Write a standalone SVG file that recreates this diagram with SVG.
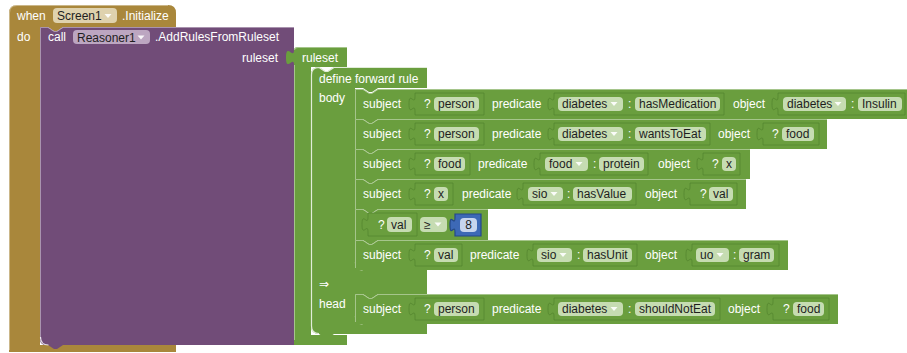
<svg xmlns="http://www.w3.org/2000/svg" width="907" height="353" viewBox="0 0 907 353">
<style>
text{font-family:"Liberation Sans",Arial,"DejaVu Sans",sans-serif;font-size:12px}
.w{fill:#fff}
.d{fill:#1e1e1e}
.gold{fill:#A9873B}
.pur{fill:#714C78}
.grn{fill:#6A9E3E}
.gp{fill:#C6DCB2}
.pp{fill:#BCA6C1}
.op{fill:#DFD2AE}
.iv{fill:#6A9E3E;stroke:#4F7F2C;stroke-width:1;stroke-opacity:.6}
.hl{fill:none;stroke:#fff;stroke-opacity:.4;stroke-width:1}
.hs{fill:none;stroke:#fff;stroke-opacity:.8;stroke-width:1.2}
.arr{fill:#fff;fill-opacity:.9}
.blue{fill:#3D69B6;stroke:#24488A;stroke-width:1.2}
.bp{fill:#C7D5EE}
</style>

<g id="when-screen1-initialize">
  <path class="gold" d="M9,13 Q9,5 17,5 H168 Q176,5 176,13 V27 H63 l-6,4 h-3 l-6,-4 H40 V345 H176 V352 H9 Z"/>
  <path class="hl" d="M9.5,350 V13 Q9.5,5.5 17,5.5 H168"/>
  <text class="w" x="17" y="20">when</text>
  <rect class="op" x="53" y="8" width="64" height="15" rx="4"/>
  <text class="d" x="57" y="20">Screen1</text>
  <polygon class="arr" points="104.5,14 111.5,14 108,18"/>
  <text class="w" x="122" y="20">.Initialize</text>
  <text class="w" x="17" y="41">do</text>
</g>

<g id="call-addrules">
  <path class="pur" d="M40,27 H48 l6,4 h3 l6,-4 H294 V345 H63 l-6,4 h-3 l-6,-4 H46 Q40,345 40,339 Z"/>
  <path class="hl" d="M40.5,339 V27.5 H48 l6,4 h3 l6,-4 H294"/>
  <path class="hs" d="M40.5,337 q0,8 8,8"/>
  <text class="w" x="48" y="41">call</text>
  <rect class="pp" x="73" y="30" width="77" height="14" rx="4"/>
  <text class="d" x="77" y="41.5">Reasoner1</text>
  <polygon class="arr" points="137.5,35.5 144.5,35.5 141,39.5"/>
  <text class="w" x="155" y="41">.AddRulesFromRuleset</text>
  <text class="w" x="278" y="61.5" text-anchor="end">ruleset</text>
</g>

<g id="ruleset">
  <path class="grn" d="M298,47 H347 V67 H311 V335 H347 V345 H294 V65 c0,-10 -8,8 -8,-7.5 s8,2.5 8,-7.5 Q294,47 298,47 Z"/>
  <path class="hl" d="M294.5,340 V65 M294.5,50 Q294.5,47.5 298,47.5 H347"/>
  <text class="w" x="302" y="61.5">ruleset</text>
</g>

<g id="define-forward-rule">
  <path class="grn" d="M311,75 Q311,67 319,67 l6,4 h3 l6,-4 H427 V88 H378 l-6,4 h-3 l-6,-4 H355 V270 H427 V294 H378 l-6,4 h-3 l-6,-4 H355 V324 H427 V334 H334 l-6,4 h-3 l-6,-4 H319 Q311,334 311,326 Z"/>
  <path class="hs" d="M311.5,326 V75 Q311.5,67.5 319,67.5 l6,4 h3 l6,-4 H427"/>
  <path class="hs" d="M311.5,326 q0,7.5 7.5,7.5"/>
  <path class="hs" d="M355.5,262 v1 q0,7 7,7 M355.5,316 v1 q0,7 7,7"/>
  <text class="w" x="319" y="83">define forward rule</text>
  <text class="w" x="319" y="102">body</text>
  <text class="w" x="319" y="287.5" font-family="'DejaVu Sans',sans-serif" font-size="11">⇒</text>
  <text class="w" x="319" y="308">head</text>
</g>

<g id="triple-person-hasMedication">
  <path class="grn" d="M355,89 H363 l6,4 h3 l6,-4 H912 V119 H378 l-6,4 h-3 l-6,-4 H355 Z"/>
  <path class="hl" d="M355.5,119 V89.5 H363 l6,4 h3 l6,-4 H912"/>
  <text class="w" x="363" y="108">subject</text>
  <path class="iv" d="M415,93 H484 V115 H415 V111.5 c0,-10 -6,6 -6,-7.5 s6,2.5 6,-7.5 Z"/>
  <text class="w" x="424" y="108">?</text>
  <rect class="gp" x="434" y="97" width="45" height="14" rx="4"/>
  <text class="d" x="438" y="108">person</text>
  <text class="w" x="492" y="108">predicate</text>
  <path class="iv" d="M554,93 H724 V115 H554 V111.5 c0,-10 -6,6 -6,-7.5 s6,2.5 6,-7.5 Z"/>
  <rect class="gp" x="558" y="97" width="65" height="14" rx="4"/>
  <text class="d" x="562" y="108">diabetes</text>
  <polygon class="arr" points="610.5,102 617.5,102 614,106"/>
  <text class="w" x="628" y="108">:</text>
  <rect class="gp" x="635" y="97" width="85" height="14" rx="4"/>
  <text class="d" x="639" y="108">hasMedication</text>
  <text class="w" x="733" y="108">object</text>
  <path class="iv" d="M778,93 H905 V115 H778 V111.5 c0,-10 -6,6 -6,-7.5 s6,2.5 6,-7.5 Z"/>
  <rect class="gp" x="783" y="97" width="63" height="14" rx="4"/>
  <text class="d" x="787" y="108">diabetes</text>
  <polygon class="arr" points="834.5,102 841.5,102 838,106"/>
  <text class="w" x="851" y="108">:</text>
  <rect class="gp" x="858" y="97" width="44" height="14" rx="4"/>
  <text class="d" x="862" y="108">Insulin</text>
</g>

<g id="triple-person-wantsToEat">
  <path class="grn" d="M355,119 H363 l6,4 h3 l6,-4 H827 V149 H378 l-6,4 h-3 l-6,-4 H355 Z"/>
  <path class="hl" d="M355.5,149 V119.5 H363 l6,4 h3 l6,-4 H827"/>
  <text class="w" x="363" y="138">subject</text>
  <path class="iv" d="M415,123 H484 V145 H415 V141.5 c0,-10 -6,6 -6,-7.5 s6,2.5 6,-7.5 Z"/>
  <text class="w" x="424" y="138">?</text>
  <rect class="gp" x="434" y="127" width="45" height="14" rx="4"/>
  <text class="d" x="438" y="138">person</text>
  <text class="w" x="492" y="138">predicate</text>
  <path class="iv" d="M554,123 H710 V145 H554 V141.5 c0,-10 -6,6 -6,-7.5 s6,2.5 6,-7.5 Z"/>
  <rect class="gp" x="558" y="127" width="65" height="14" rx="4"/>
  <text class="d" x="562" y="138">diabetes</text>
  <polygon class="arr" points="610.5,132 617.5,132 614,136"/>
  <text class="w" x="628" y="138">:</text>
  <rect class="gp" x="635" y="127" width="71" height="14" rx="4"/>
  <text class="d" x="639" y="138">wantsToEat</text>
  <text class="w" x="718" y="138">object</text>
  <path class="iv" d="M763,123 H819 V145 H763 V141.5 c0,-10 -6,6 -6,-7.5 s6,2.5 6,-7.5 Z"/>
  <text class="w" x="772" y="138">?</text>
  <rect class="gp" x="782" y="127" width="32" height="14" rx="4"/>
  <text class="d" x="786" y="138">food</text>
</g>

<g id="triple-food-protein">
  <path class="grn" d="M355,149 H363 l6,4 h3 l6,-4 H750 V179 H378 l-6,4 h-3 l-6,-4 H355 Z"/>
  <path class="hl" d="M355.5,179 V149.5 H363 l6,4 h3 l6,-4 H750"/>
  <text class="w" x="363" y="168">subject</text>
  <path class="iv" d="M415,153 H470 V175 H415 V171.5 c0,-10 -6,6 -6,-7.5 s6,2.5 6,-7.5 Z"/>
  <text class="w" x="424" y="168">?</text>
  <rect class="gp" x="434" y="157" width="31" height="14" rx="4"/>
  <text class="d" x="438" y="168">food</text>
  <text class="w" x="478" y="168">predicate</text>
  <path class="iv" d="M540,153 H648 V175 H540 V171.5 c0,-10 -6,6 -6,-7.5 s6,2.5 6,-7.5 Z"/>
  <rect class="gp" x="545" y="157" width="43" height="14" rx="4"/>
  <text class="d" x="549" y="168">food</text>
  <polygon class="arr" points="575.5,162 582.5,162 579,166"/>
  <text class="w" x="593" y="168">:</text>
  <rect class="gp" x="599" y="157" width="45" height="14" rx="4"/>
  <text class="d" x="603" y="168">protein</text>
  <text class="w" x="658" y="168">object</text>
  <path class="iv" d="M703,153 H740 V175 H703 V171.5 c0,-10 -6,6 -6,-7.5 s6,2.5 6,-7.5 Z"/>
  <text class="w" x="712" y="168">?</text>
  <rect class="gp" x="722" y="157" width="14" height="14" rx="4"/>
  <text class="d" x="726" y="168">x</text>
</g>

<g id="triple-x-hasValue">
  <path class="grn" d="M355,179 H363 l6,4 h3 l6,-4 H746 V209 H378 l-6,4 h-3 l-6,-4 H355 Z"/>
  <path class="hl" d="M355.5,209 V179.5 H363 l6,4 h3 l6,-4 H746"/>
  <text class="w" x="363" y="198">subject</text>
  <path class="iv" d="M415,183 H453 V205 H415 V201.5 c0,-10 -6,6 -6,-7.5 s6,2.5 6,-7.5 Z"/>
  <text class="w" x="424" y="198">?</text>
  <rect class="gp" x="434" y="187" width="14" height="14" rx="4"/>
  <text class="d" x="438" y="198">x</text>
  <text class="w" x="462" y="198">predicate</text>
  <path class="iv" d="M523,183 H636 V205 H523 V201.5 c0,-10 -6,6 -6,-7.5 s6,2.5 6,-7.5 Z"/>
  <rect class="gp" x="528" y="187" width="35" height="14" rx="4"/>
  <text class="d" x="532" y="198">sio</text>
  <polygon class="arr" points="550.5,192 557.5,192 554,196"/>
  <text class="w" x="567" y="198">:</text>
  <rect class="gp" x="573" y="187" width="59" height="14" rx="4"/>
  <text class="d" x="577" y="198">hasValue</text>
  <text class="w" x="645" y="198">object</text>
  <path class="iv" d="M690,183 H737 V205 H690 V201.5 c0,-10 -6,6 -6,-7.5 s6,2.5 6,-7.5 Z"/>
  <text class="w" x="700" y="198">?</text>
  <rect class="gp" x="709" y="187" width="24" height="14" rx="4"/>
  <text class="d" x="713" y="198">val</text>
</g>

<g id="compare-val-ge-8">
  <path class="grn" d="M355,209 H363 l6,4 h3 l6,-4 H488 V240 H378 l-6,4 h-3 l-6,-4 H355 Z"/>
  <path class="hl" d="M355.5,240 V209.5 H363 l6,4 h3 l6,-4 H488"/>
  <path class="iv" d="M368,213 H417 V236 H368 V232 c0,-10 -6,6 -6,-7.5 s6,2.5 6,-7.5 Z"/>
  <text class="w" x="378" y="229">?</text>
  <rect class="gp" x="387" y="217" width="25" height="15" rx="4"/>
  <text class="d" x="391" y="229">val</text>
  <rect class="gp" x="420" y="217" width="27" height="15" rx="4"/>
  <text class="d" x="424" y="229">≥</text>
  <polygon class="arr" points="434.5,222.5 441.5,222.5 438,226.5"/>
  <g id="number-8">
    <path class="blue" d="M455,214 H481 V236 H455 V232.5 c0,-10 -5,6 -5,-7.5 s5,2.5 5,-7.5 Z"/>
    <rect class="bp" x="460" y="218" width="17" height="14" rx="4"/>
    <text class="d" x="468.5" y="229" text-anchor="middle">8</text>
  </g>
</g>

<g id="triple-val-hasUnit">
  <path class="grn" d="M355,240 H363 l6,4 h3 l6,-4 H788 V270 H378 l-6,4 h-3 l-6,-4 H355 Z"/>
  <path class="hl" d="M355.5,268 V240.5 H363 l6,4 h3 l6,-4 H788"/>
  <text class="w" x="363" y="259">subject</text>
  <path class="iv" d="M415,244 H462 V266 H415 V262.5 c0,-10 -6,6 -6,-7.5 s6,2.5 6,-7.5 Z"/>
  <text class="w" x="424" y="259">?</text>
  <rect class="gp" x="434" y="248" width="24" height="14" rx="4"/>
  <text class="d" x="438" y="259">val</text>
  <text class="w" x="470" y="259">predicate</text>
  <path class="iv" d="M533,244 H637 V266 H533 V262.5 c0,-10 -6,6 -6,-7.5 s6,2.5 6,-7.5 Z"/>
  <rect class="gp" x="537" y="248" width="35" height="14" rx="4"/>
  <text class="d" x="541" y="259">sio</text>
  <polygon class="arr" points="559.5,253 566.5,253 563,257"/>
  <text class="w" x="577" y="259">:</text>
  <rect class="gp" x="583" y="248" width="49" height="14" rx="4"/>
  <text class="d" x="587" y="259">hasUnit</text>
  <text class="w" x="645" y="259">object</text>
  <path class="iv" d="M692,244 H779 V266 H692 V262.5 c0,-10 -6,6 -6,-7.5 s6,2.5 6,-7.5 Z"/>
  <rect class="gp" x="696" y="248" width="33" height="14" rx="4"/>
  <text class="d" x="700" y="259">uo</text>
  <polygon class="arr" points="716.5,253 723.5,253 720,257"/>
  <text class="w" x="733" y="259">:</text>
  <rect class="gp" x="739" y="248" width="35" height="14" rx="4"/>
  <text class="d" x="743" y="259">gram</text>
</g>

<g id="head-person-shouldNotEat">
  <path class="grn" d="M355,294 H363 l6,4 h3 l6,-4 H838 V324 H378 l-6,4 h-3 l-6,-4 H355 Z"/>
  <path class="hl" d="M355.5,322 V294.5 H363 l6,4 h3 l6,-4 H838"/>
  <text class="w" x="363" y="313">subject</text>
  <path class="iv" d="M415,298 H484 V320 H415 V316.5 c0,-10 -6,6 -6,-7.5 s6,2.5 6,-7.5 Z"/>
  <text class="w" x="424" y="313">?</text>
  <rect class="gp" x="434" y="302" width="45" height="14" rx="4"/>
  <text class="d" x="438" y="313">person</text>
  <text class="w" x="492" y="313">predicate</text>
  <path class="iv" d="M554,298 H720 V320 H554 V316.5 c0,-10 -6,6 -6,-7.5 s6,2.5 6,-7.5 Z"/>
  <rect class="gp" x="558" y="302" width="65" height="14" rx="4"/>
  <text class="d" x="562" y="313">diabetes</text>
  <polygon class="arr" points="610.5,307 617.5,307 614,311"/>
  <text class="w" x="628" y="313">:</text>
  <rect class="gp" x="635" y="302" width="80" height="14" rx="4"/>
  <text class="d" x="639" y="313">shouldNotEat</text>
  <text class="w" x="728" y="313">object</text>
  <path class="iv" d="M773,298 H829 V320 H773 V316.5 c0,-10 -6,6 -6,-7.5 s6,2.5 6,-7.5 Z"/>
  <text class="w" x="783" y="313">?</text>
  <rect class="gp" x="793" y="302" width="31" height="14" rx="4"/>
  <text class="d" x="797" y="313">food</text>
</g>
</svg>
